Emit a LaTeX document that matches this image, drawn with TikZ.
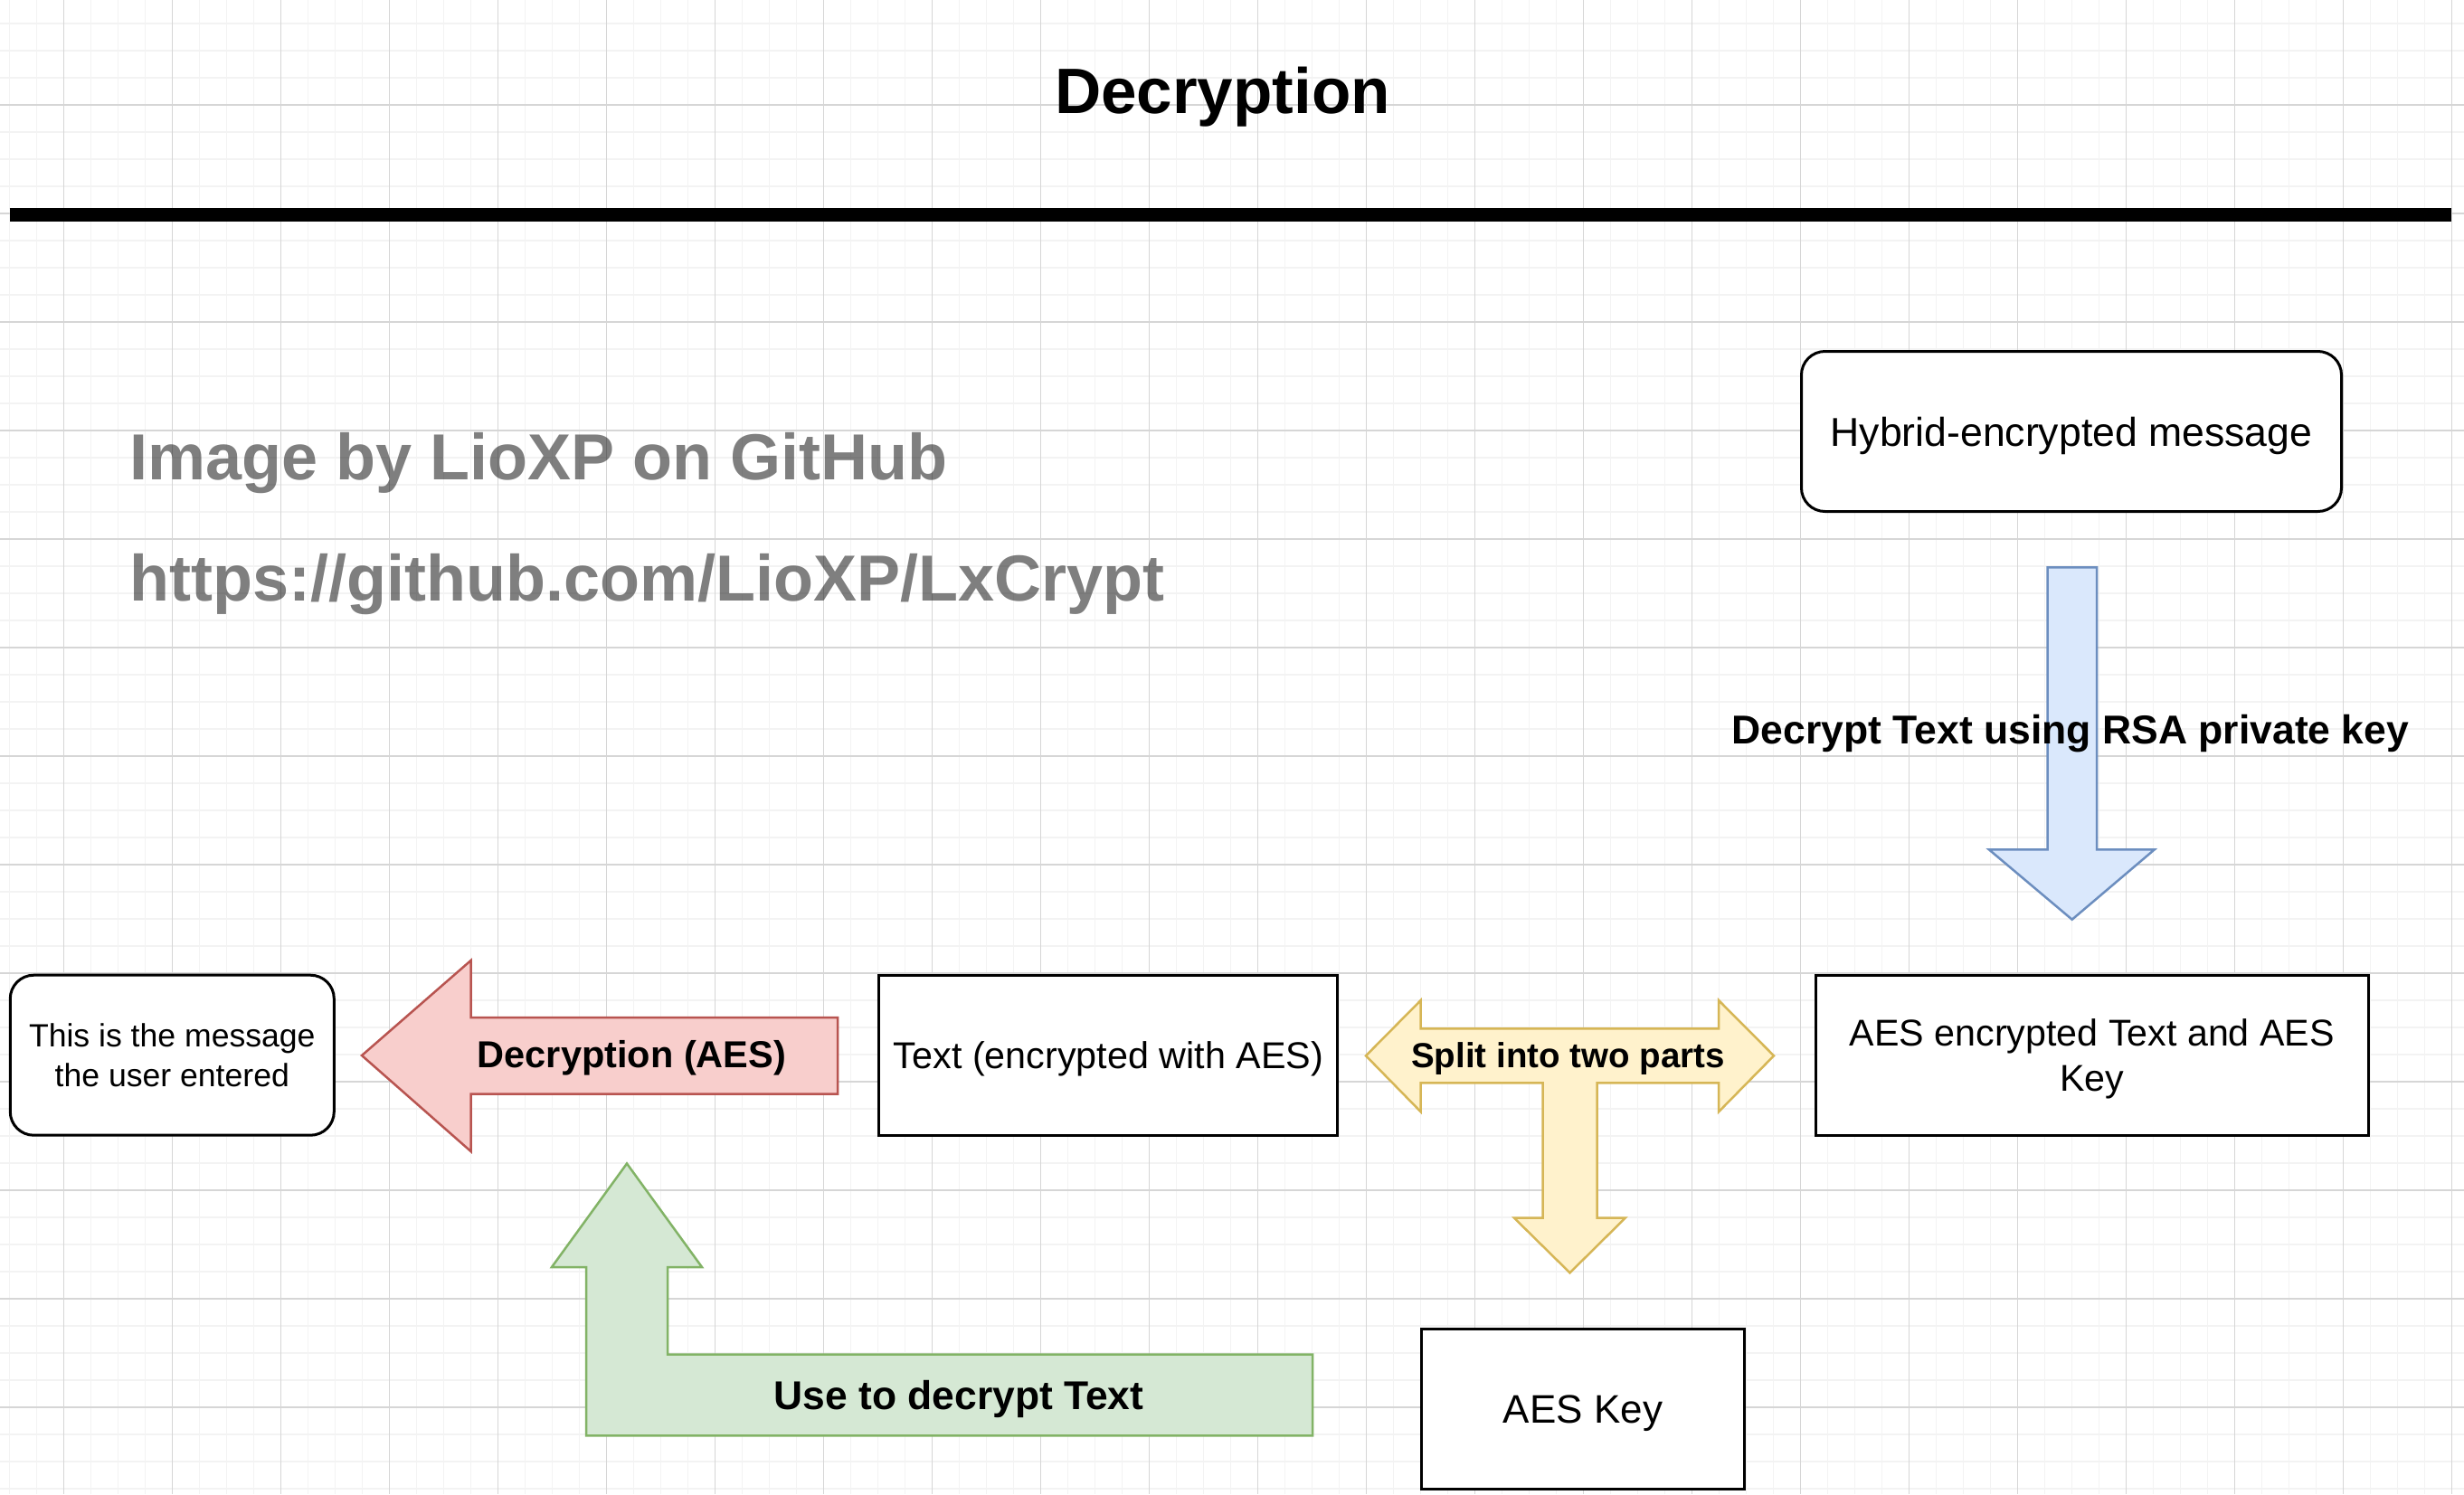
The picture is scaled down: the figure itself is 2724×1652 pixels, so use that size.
\documentclass[tikz,border=0pt]{standalone}
\usepackage{fontspec}
\setmainfont{Liberation Sans}
\definecolor{minorc}{HTML}{F3F3F3}
\definecolor{majorc}{HTML}{D6D6D6}
\definecolor{redfill}{HTML}{F8CECC}
\definecolor{redline}{HTML}{B85450}
\definecolor{yelfill}{HTML}{FFF2CC}
\definecolor{yelline}{HTML}{D6B656}
\definecolor{grnfill}{HTML}{D5E8D4}
\definecolor{grnline}{HTML}{82B366}
\definecolor{blufill}{HTML}{DAE8FC}
\definecolor{bluline}{HTML}{6C8EBF}
\begin{document}
\begin{tikzpicture}[x=1pt,y=-1pt,
  minorgrid/.style={draw=minorc,line width=1.5pt},
  majorgrid/.style={draw=majorc,line width=1.5pt},
  box/.style={draw=black,line width=3pt,fill=white,inner sep=0pt,align=center,text depth=0pt},
  rbox/.style={box,rounded corners=26pt},
  shapearrow/.style={line width=2.5pt,line join=miter},
  lbl/.style={anchor=base,inner sep=0pt,font=\bfseries\fontsize{#1}{#1}\selectfont},
  wmark/.style={anchor=base west,inner sep=0pt,text=black,text opacity=0.5,font=\bfseries\fontsize{72}{72}\selectfont},
]
\useasboundingbox[fill=white] (0,0) rectangle (2724,1652);
% grid
\foreach \i in {0,...,90} \draw[minorgrid] ({10.7+30*\i},0) -- ({10.7+30*\i},1652);
\foreach \j in {0,...,54} \draw[minorgrid] (0,{26+30*\j}) -- (2724,{26+30*\j});
\foreach \i in {0,...,22} \draw[majorgrid] ({70.7+120*\i},0) -- ({70.7+120*\i},1652);
\foreach \j in {0,...,12} \draw[majorgrid] (0,{116+120*\j}) -- (2724,{116+120*\j});

% title and separator
\node[lbl=71] (title) at (1351.5,125) {Decryption};
\coordinate (sepL) at (10.7,237.5);
\coordinate (sepR) at (2710,237.5);
\draw[line width=15pt] (sepL) -- (sepR);

% watermark
\node[wmark] (wm1) at (143,530.7) {Image by LioXP on GitHub};
\node[wmark] (wm2) at (143,664) {https://github.com/LioXP/LxCrypt};

% blue arrow (RSA)
\path[shapearrow,fill=blufill,draw=bluline]
  (2263.5,627.3) -- (2318,627.3) -- (2318,939.3) -- (2381.8,939.3) -- (2290.7,1016.7)
  -- (2198.8,939.3) -- (2263.5,939.3) -- cycle;

% red arrow (Decryption AES)
\path[shapearrow,fill=redfill,draw=redline]
  (400,1167) -- (520.5,1062) -- (520.5,1125) -- (926,1125) -- (926,1209.5)
  -- (520.5,1209.5) -- (520.5,1273) -- cycle;

% green arrow (use to decrypt)
\path[shapearrow,fill=grnfill,draw=grnline]
  (693,1286.5) -- (776,1401) -- (738,1401) -- (738,1497.7) -- (1451,1497.7)
  -- (1451,1587.3) -- (648,1587.3) -- (648,1401) -- (610,1401) -- cycle;

% yellow T arrow (split)
\path[shapearrow,fill=yelfill,draw=yelline]
  (1510,1167.3) -- (1570.7,1106) -- (1570.7,1137.3) -- (1900,1137.3) -- (1900,1106)
  -- (1961,1167.3) -- (1900,1229.3) -- (1900,1197.3) -- (1765.7,1197.3)
  -- (1765.7,1346.7) -- (1796.7,1346.7) -- (1735.5,1407.3) -- (1674,1346.7)
  -- (1705.7,1346.7) -- (1705.7,1197.3) -- (1570.7,1197.3) -- (1570.7,1229.3) -- cycle;

% boxes
\node[rbox,minimum width=597pt,minimum height=177pt,font=\fontsize{44.6}{53}\selectfont]
  (hybrid) at (2290,477) {Hybrid-encrypted message};
\node[rbox,minimum width=358pt,minimum height=177pt,font=\fontsize{35.6}{43.3}\selectfont]
  (msg) at (190.3,1166.7) {This is the message\\the user entered};
\node[box,minimum width=507pt,minimum height=177pt,font=\fontsize{41.3}{49.6}\selectfont]
  (enc) at (1225.4,1167) {Text (encrypted with AES)};
\node[box,minimum width=611pt,minimum height=177pt,font=\fontsize{41.2}{50}\selectfont]
  (both) at (2312.8,1167) {AES encrypted Text and AES\\Key};
\node[box,minimum width=357pt,minimum height=177pt,font=\fontsize{44}{52}\selectfont]
  (aeskey) at (1750,1558) {AES Key};

% arrow labels
\node[lbl=44.5] (rsalbl) at (2289,822.7) {Decrypt Text using RSA private key};
\node[lbl=41.5] (aeslbl) at (698.5,1180.7) {Decryption (AES)};
\node[lbl=38.5] (splitlbl) at (1733.5,1180) {Split into two parts};
\node[lbl=44.4] (uselbl) at (1060,1558) {Use to decrypt Text};
\end{tikzpicture}
\end{document}
